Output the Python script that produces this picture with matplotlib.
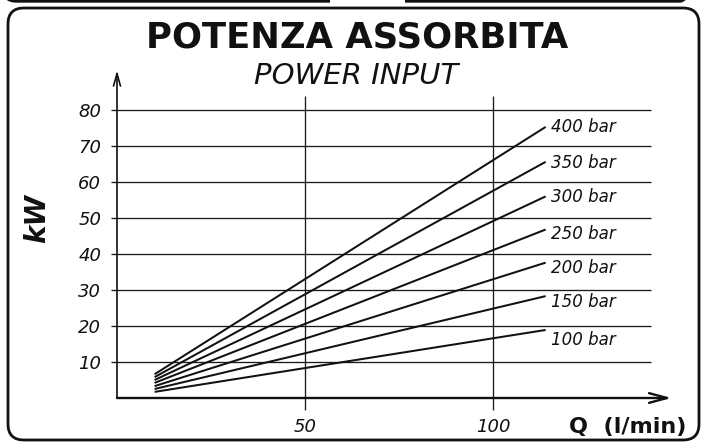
import matplotlib
matplotlib.use("Agg")
import matplotlib.pyplot as plt
from matplotlib.patches import FancyBboxPatch, Rectangle

# ---- data ----
pressure_labels = ["100 bar", "150 bar", "200 bar", "250 bar", "300 bar", "350 bar", "400 bar"]
flow_start = 10.0      # l/min
flow_end = 114.0       # l/min
power_start = [1.7, 2.5, 3.3, 4.2, 5.0, 5.8, 6.6]       # kW at flow_start
power_end = [18.9, 28.3, 37.6, 46.8, 56.0, 65.6, 75.3]  # kW at flow_end
label_y = [16.1, 26.8, 36.1, 45.6, 55.8, 65.2, 75.2]
label_x = 115.5
y_ticks = [10, 20, 30, 40, 50, 60, 70, 80]
x_ticks = [50, 100]

W, H = 702, 442
fig = plt.figure(figsize=(W / 100, H / 100), dpi=100)
plt.rcParams['font.family'] = ['DejaVu Sans']

# decoration axes in pixel coordinates
deco = fig.add_axes([0, 0, 1, 1])
deco.set_xlim(0, W)
deco.set_ylim(H, 0)
deco.axis('off')

# previous panel bottom edge
prev = FancyBboxPatch((4, -60), 688, 61, boxstyle="round,pad=0,rounding_size=12",
                      fc='none', ec='#111111', lw=2.4)
deco.add_patch(prev)
deco.add_patch(Rectangle((330, -5), 75, 8, fc='white', ec='none', zorder=3))

# current panel border
panel = FancyBboxPatch((8, 8), 691, 432, boxstyle="round,pad=0,rounding_size=16",
                       fc='none', ec='#111111', lw=2.0)
deco.add_patch(panel)

deco.text(357, 37, "POTENZA ASSORBITA", ha='center', va='center', fontsize=25.5,
          fontweight='heavy', color='#111111')
deco.text(356, 76, "POWER INPUT", ha='center', va='center', fontsize=21,
          style='italic', color='#111111')

# data axes
x0_px, y0_px = 117, 398
px_x, px_y = 3.76, 3.6
xmax, ymax = 150, 92
ax = fig.add_axes([x0_px / W, (H - y0_px) / H, xmax * px_x / W, ymax * px_y / H])
ax.set_xlim(0, xmax)
ax.set_ylim(0, ymax)
ax.set_frame_on(False)

ax.hlines(y_ticks, 0, 142, color='#1a1a1a', lw=0.95)
ax.vlines(x_ticks, 0, 84, color='#1a1a1a', lw=0.95)

ax.set_yticks(y_ticks)
ax.set_yticklabels([str(v) for v in y_ticks])
ax.set_xticks(x_ticks)
ax.set_xticklabels([str(v) for v in x_ticks])
ax.tick_params(axis='y', direction='out', length=4.3, width=0.95, pad=7,
               labelsize=13, color='#1a1a1a')
ax.tick_params(axis='x', direction='out', length=8.6, width=0.95, pad=6,
               labelsize=13, color='#1a1a1a')
for t in ax.get_xticklabels() + ax.get_yticklabels():
    t.set_fontstyle('italic')
    t.set_color('#111111')

# axes with arrows
ax.annotate('', xy=(0, 91), xytext=(0, 0),
            arrowprops=dict(arrowstyle='->,head_length=0.9,head_width=0.25',
                            mutation_scale=10, lw=1.2, color='#111111',
                            shrinkA=0, shrinkB=0), annotation_clip=False)
ax.annotate('', xy=(147.5, 0), xytext=(0, 0),
            arrowprops=dict(arrowstyle='->,head_length=1.3,head_width=0.35',
                            mutation_scale=10, lw=1.7, color='#111111',
                            shrinkA=0, shrinkB=0), annotation_clip=False)

for lab, p0, p1, ly in zip(pressure_labels, power_start, power_end, label_y):
    ax.plot([flow_start, flow_end], [p0, p1], color='#111111', lw=1.45,
            solid_capstyle='butt', clip_on=False)
    ax.text(label_x, ly, lab, ha='left', va='center', fontsize=12,
            style='italic', color='#111111')

# axis titles
deco.text(37, 218, "kW", ha='center', va='center', rotation=90, fontsize=20,
          fontweight='bold', style='italic', color='#111111')
deco.text(686, 427, "Q  (l/min)", ha='right', va='center', fontsize=16,
          fontweight='bold', color='#111111')

fig.savefig("out.png", dpi=100)
